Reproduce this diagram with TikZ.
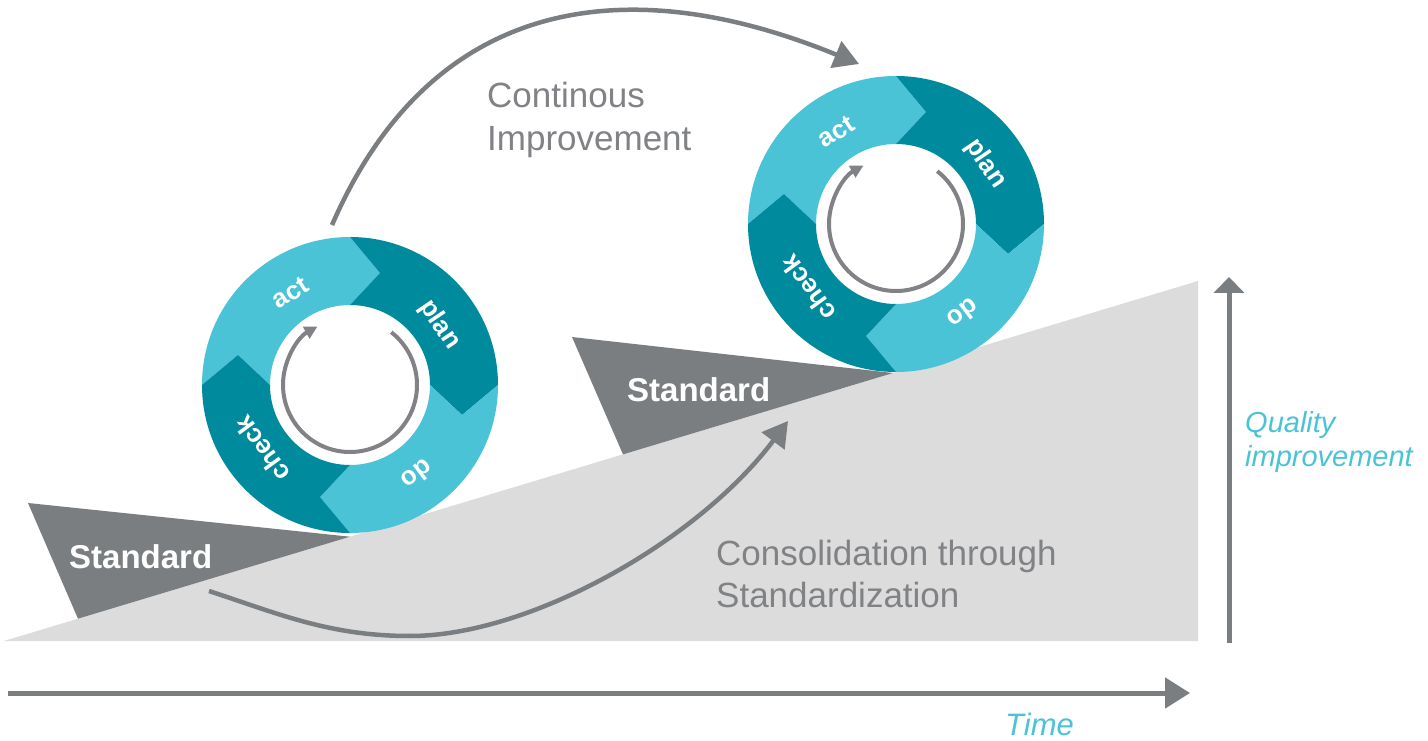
\documentclass[tikz,border=0pt]{standalone}
\usepackage{fontspec}
\setmainfont{Liberation Sans}
\usetikzlibrary{arrows.meta}
\definecolor{lcyan}{HTML}{4BC3D6}
\definecolor{dteal}{HTML}{008A9E}
\definecolor{dgray}{HTML}{7B7E80}
\definecolor{lgray}{HTML}{DCDCDC}
\definecolor{tgray}{HTML}{808285}
\tikzset{
  segl/.style={fill=lcyan},
  segd/.style={fill=dteal},
  wlabel/.style={text=white, font=\bfseries\fontsize{26}{26}\selectfont, inner sep=0},
  stdtext/.style={text=white, font=\bfseries\fontsize{33}{33}\selectfont, inner sep=0, anchor=base west},
  graytext/.style={text=tgray, font=\fontsize{35}{35}\selectfont, inner sep=0, anchor=base west},
  cyantext/.style={text=lcyan, font=\itshape\fontsize{29}{29}\selectfont, inner sep=0, anchor=base west},
  bigarrow/.style={draw=dgray, line width=4.5pt, -{Triangle[length=25pt,width=28pt]}},
  axisarrow/.style={draw=dgray, line width=5pt, -{Triangle[length=25pt,width=30pt]}},
  vaxisarrow/.style={draw=dgray, line width=5pt, -{Triangle[length=16pt,width=30pt]}},
  innerarrow/.style={draw=tgray, line width=4pt, -{Triangle[length=13pt,width=13pt]}},
  pdca/.pic={
    \fill[segl] (180:148pt) arc[start angle=180,end angle=90,radius=148pt] -- (75:116pt) -- (90:80pt) arc[start angle=90,end angle=180,radius=80pt] -- (165:116pt) -- cycle;
    \fill[segd] (90:148pt) arc[start angle=90,end angle=0,radius=148pt] -- (-15:116pt) -- (0:80pt) arc[start angle=0,end angle=90,radius=80pt] -- (75:116pt) -- cycle;
    \fill[segl] (0:148pt) arc[start angle=0,end angle=-90,radius=148pt] -- (-105:116pt) -- (-90:80pt) arc[start angle=-90,end angle=0,radius=80pt] -- (-15:116pt) -- cycle;
    \fill[segd] (-90:148pt) arc[start angle=-90,end angle=-180,radius=148pt] -- (-195:116pt) -- (-180:80pt) arc[start angle=-180,end angle=-90,radius=80pt] -- (-105:116pt) -- cycle;
    \draw[innerarrow] (52:67pt) arc[start angle=52,end angle=-241,radius=67pt];
    \node[wlabel, rotate=33] (act) at (123:110pt) {act};
    \node[wlabel, rotate=-56] (plan) at (34:108pt) {plan};
    \node[wlabel, rotate=-143] (do) at (-53:112pt) {do};
    \node[wlabel, rotate=126] (check) at (216:109pt) {check};
  }
}
\begin{document}
\begin{tikzpicture}[x=1pt,y=1pt]
\useasboundingbox (0,0) rectangle (1428,740);
\fill[white] (0,0) rectangle (1428,740);
% ramp
\fill[lgray] (4,99) -- (1198,459) -- (1198,99) -- cycle;
% standards
\fill[dgray] (28,237) -- (350,203.3) -- (78,121.3) -- cycle;
\fill[dgray] (572,403) -- (893,367) -- (623,285.6) -- cycle;
\node[stdtext] (std1) at (69,172) {Standard};
\node[stdtext] (std2) at (627,338) {Standard};
% wheels
\pic (w1) at (350,355) {pdca};
\pic (w2) at (896,516) {pdca};
% continuous improvement arrow
\coordinate (ci-start) at (332,515);
\coordinate (ci-end) at (859,676);
\draw[bigarrow] (ci-start) .. controls (432,745) and (627.5,771) .. (ci-end);
\node[graytext] (ci1) at (487,632) {Continous};
\node[graytext] (ci2) at (487,589) {Improvement};
% consolidation arrow
\coordinate (cs-start) at (209,149);
\coordinate (cs-mid) at (410,104);
\coordinate (cs-end) at (788,319);
\draw[bigarrow] (cs-start) .. controls (279,126) and (330,104) .. (cs-mid) .. controls (530,104) and (698,199) .. (cs-end);
\node[graytext] (cs1) at (716,175) {Consolidation through};
\node[graytext] (cs2) at (716,133) {Standardization};
% axes
\coordinate (t-start) at (8,47);
\coordinate (t-end) at (1190,47);
\draw[axisarrow] (t-start) -- (t-end);
\node[cyantext, font=\itshape\fontsize{31}{31}\selectfont] (time) at (1005,5) {Time};
\coordinate (q-start) at (1229,97);
\coordinate (q-end) at (1229,463);
\draw[vaxisarrow] (q-start) -- (q-end);
\node[cyantext] (q1) at (1245,307) {Quality};
\node[cyantext] (q2) at (1245,273) {improvement};
\end{tikzpicture}
\end{document}
